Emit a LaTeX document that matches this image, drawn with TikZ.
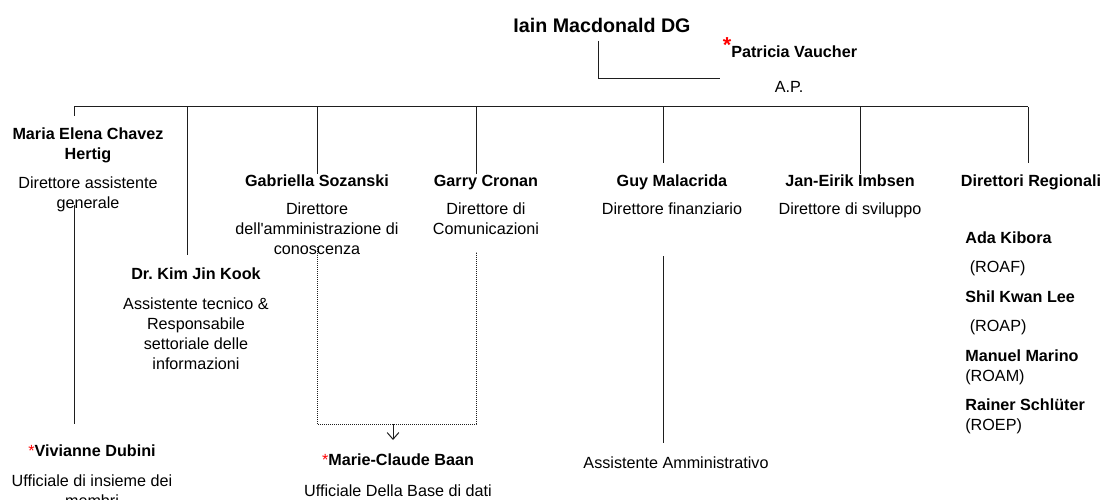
\documentclass[tikz,border=0pt]{standalone}
\usepackage{fontspec}
\setmainfont{Liberation Sans}
\usepackage{xcolor}
\usetikzlibrary{arrows.meta}
\definecolor{orgline}{RGB}{30,30,30}
\newcommand{\redast}{\textcolor{red}{*}}

\begin{document}
\begin{tikzpicture}[x=0.6pt, y=-0.6pt,
    person/.style={align=center, inner sep=0pt, anchor=north, font=\fontsize{9.7}{12}\selectfont},
    oneline/.style={inner sep=0pt, anchor=base, font=\fontsize{9.7}{12}\selectfont},
    link/.style={line width=0.6pt, orgline},
    dotlink/.style={line width=0.5pt, dash pattern=on 0.6pt off 0.6pt, orgline}]
\useasboundingbox (0,0) rectangle (1104,500);

% Direttore generale and assistant
\node[oneline, font=\fontsize{11.8}{14}\selectfont\bfseries] (dg) at (602,33) {Iain Macdonald DG};
\node[oneline, font=\fontsize{9.7}{12}\selectfont\bfseries] (pat) at (790,58)
    {\raisebox{3.2pt}{\fontsize{13}{13}\selectfont\textcolor{red}{*}}Patricia Vaucher};
\node[oneline] (ap) at (789,93) {A.P.};
\coordinate (dgfoot) at (598,41);
\coordinate (patleft) at (720,79);
\draw[link] (dgfoot) |- (patleft);

% bus line
\coordinate (b1) at (74,107);
\coordinate (b2) at (187,107);
\coordinate (b3) at (317,107);
\coordinate (b4) at (476,107);
\coordinate (b5) at (663,107);
\coordinate (b6) at (860,107);
\coordinate (b7) at (1028,107);
\draw[link] (b1) -- (b7);

% directors
\node[person] (maria) at (88,127)
    {\textbf{Maria Elena Chavez}\\\textbf{Hertig}\\[5.4pt]Direttore assistente\\generale};
\node[person] (kim) at (196,267)
    {\textbf{Dr.\ Kim Jin Kook}\\[6pt]Assistente tecnico \&\\Responsabile\\settoriale delle\\informazioni};
\node[person] (gab) at (317,174)
    {\textbf{Gabriella Sozanski}\\[4.8pt]Direttore\\dell\textquotesingle amministrazione di\\conoscenza};
\node[person] (garry) at (486,174.5)
    {\textbf{Garry Cronan}\\[4.8pt]Direttore di\\Comunicazioni};
\node[person] (guy) at (672,174)
    {\textbf{Guy Malacrida}\\[4.8pt]Direttore finanziario};
\node[person] (jan) at (850,174)
    {\textbf{Jan-Eirik Imbsen}\\[4.8pt]Direttore di sviluppo};
\node[oneline, font=\fontsize{9.7}{12}\selectfont\bfseries] (reg) at (1031,186) {Direttori Regionali};

% regional directors
\node[person, align=left, anchor=north west] (regs) at (965,231)
    {\textbf{Ada Kibora}\\[5.7pt]\ (ROAF)\\[5.7pt]\textbf{Shil Kwan Lee}\\[5.7pt]\ (ROAP)\\[5.7pt]%
     \textbf{Manuel Marino}\\(ROAM)\\[5.7pt]\textbf{Rainer Schlüter}\\(ROEP)};

% bottom row
\node[person] (viv) at (92,444)
    {\redast\textbf{Vivianne Dubini}\\[6pt]Ufficiale di insieme dei\\membri};
\node[person] (marie) at (398,453)
    {\redast\textbf{Marie-Claude Baan}\\[6.6pt]Ufficiale Della Base di dati};
\node[oneline] (assist) at (676,468) {Assistente Amministrativo};

% drops from the bus
\coordinate (mariatop) at (74,116);
\coordinate (kimtop) at (187,255);
\coordinate (guytop) at (663,163);
\coordinate (regtop) at (1028,163);
\draw[link] (b1) -- (mariatop);
\draw[link] (b2) -- (kimtop);
\draw[link] (b3) -- (gab.north -| b3);
\draw[link] (b4) -- (b4 |- garry.north);
\draw[link] (b5) -- (guytop);
\draw[link] (b6) -- (b6 |- jan.north);
\draw[link] (b7) -- (regtop);

% lower links
\coordinate (vivup) at (74,205);
\coordinate (vivdown) at (74,424);
\draw[link] (vivup) -- (vivdown);
\coordinate (guylow) at (663,256);
\coordinate (assisttop) at (663,443);
\draw[link] (guylow) -- (assisttop);

% shared link to the database officer
\coordinate (gabdot) at (317,247);
\coordinate (garrydot) at (476,252);
\coordinate (dotbase) at (393,424);
\coordinate (arrowend) at (393,440);
\draw[dotlink] (gabdot) -- (gabdot |- dotbase) -| (garrydot);
\draw[link, -{Straight Barb[length=4pt, width=7pt]}] (dotbase) -- (arrowend);
\end{tikzpicture}
\end{document}
